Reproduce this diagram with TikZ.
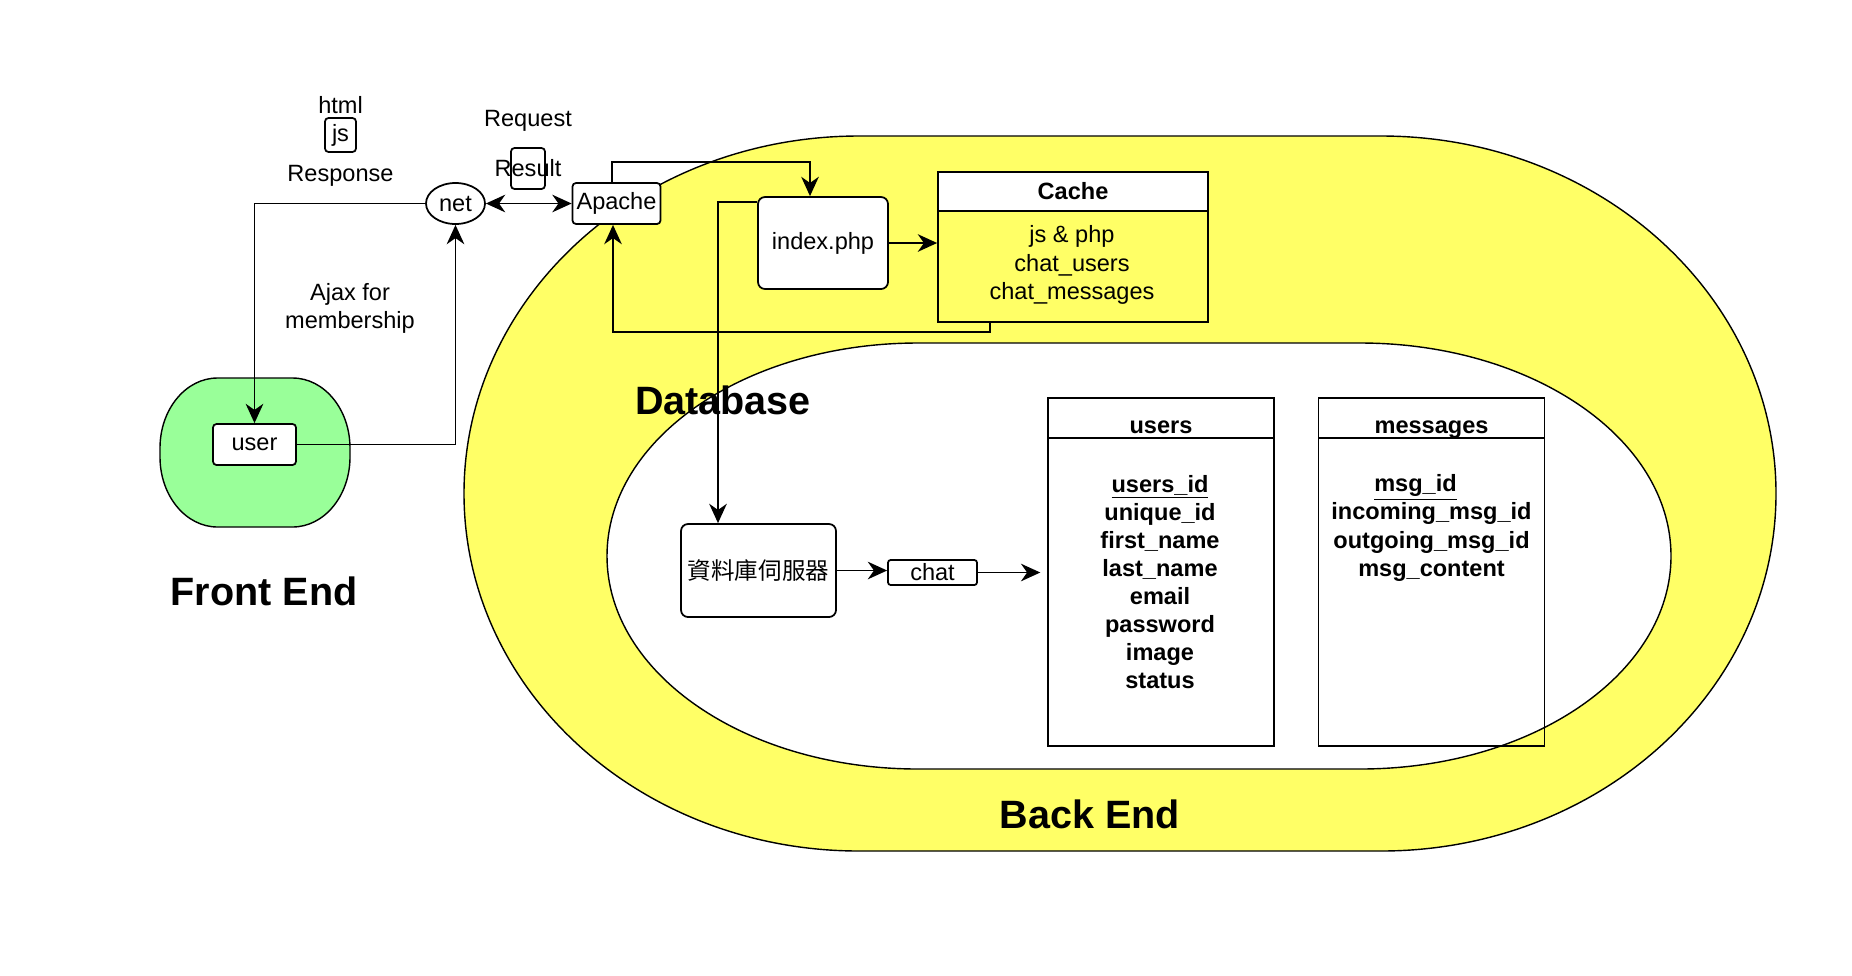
\documentclass[tikz,border=0pt]{standalone}
\usepackage{fontspec}
\setmainfont{Liberation Sans}
\newfontfamily\cjkfont{Noto Sans CJK TC}
\usepackage{tikz}
\usetikzlibrary{arrows.meta,positioning,calc,shapes.geometric}
\definecolor{beyellow}{HTML}{FFFF66}
\definecolor{fegreen}{HTML}{99FF99}
\newcommand{\lblfont}{\fontsize{13.4pt}{16pt}\selectfont}
\newcommand{\ttlfont}{\fontsize{22.5pt}{26pt}\selectfont\bfseries}

\begin{document}
\begin{tikzpicture}[
  box/.style={draw,fill=white,rounded corners=2pt,line width=1pt,inner sep=0pt,font=\lblfont},
  tbl/.style={draw,line width=0.8pt,minimum width=4.52cm,minimum height=6.96cm},
  tblhead/.style={draw,fill=white,line width=0.8pt,minimum width=4.52cm,minimum height=0.8cm,anchor=north,font=\lblfont\bfseries,text height=0.62cm,text depth=0pt,inner sep=0pt},
  field/.style={font=\lblfont\bfseries,align=center,inner sep=0pt},
  lbl/.style={font=\lblfont,inner sep=0pt},
  ttl/.style={font=\ttlfont},
  ring/.style={draw,line width=0.8pt},
  arr/.style={-{Stealth[length=11pt,width=10pt,inset=3.5pt]},line width=1.05pt},
  darr/.style={{Stealth[length=11pt,width=10pt,inset=3.5pt]}-{Stealth[length=11pt,width=10pt,inset=3.5pt]},line width=1.05pt}
]
\useasboundingbox (0,0) rectangle (37.04,-19.5);

% back end and database areas
\draw[ring,fill=beyellow] (17.18,-2.72) -- (27.62,-2.72)
  arc[start angle=90,end angle=-90,x radius=7.9,y radius=7.15] -- (17.18,-17.02)
  arc[start angle=270,end angle=90,x radius=7.9,y radius=7.15] -- cycle;
\draw[ring,fill=white] (18.36,-6.86) -- (27.20,-6.86)
  arc[start angle=90,end angle=-90,x radius=6.22,y radius=4.26] -- (18.36,-15.38)
  arc[start angle=270,end angle=90,x radius=6.22,y radius=4.26] -- cycle;
% front end area
\draw[ring,fill=fegreen] (4.35,-7.56) -- (5.85,-7.56)
  arc[start angle=90,end angle=0,x radius=1.15,y radius=1.4] -- (7.00,-9.14)
  arc[start angle=0,end angle=-90,x radius=1.15,y radius=1.4] -- (4.35,-10.54)
  arc[start angle=270,end angle=180,x radius=1.15,y radius=1.4] -- (3.20,-8.96)
  arc[start angle=180,end angle=90,x radius=1.15,y radius=1.4] -- cycle;

\node[ttl] (backend) at (21.80,-16.28) {Back End};
\node[ttl] (dbtitle) at (14.46,-8.00) {Database};
\node[ttl] (frontend) at (5.28,-11.82) {Front End};

\node[box,minimum width=1.66cm,minimum height=0.82cm] (user) at (5.09,-8.89) {user};
\node[box,ellipse,minimum width=1.18cm,minimum height=0.82cm] (net) at (9.11,-4.07) {net};
\node[box,minimum width=1.76cm,minimum height=0.82cm] (apache) at (12.33,-4.07) {Apache};
\node[box,rounded corners=4pt,minimum width=2.6cm,minimum height=1.84cm] (idx) at (16.46,-4.86) {index.php};
\node[box,rounded corners=4pt,minimum width=3.1cm,minimum height=1.86cm,font=\lblfont\cjkfont] (dbs) at (15.17,-11.41) {資料庫伺服器};
\node[box,rounded corners=1.5pt,minimum width=1.78cm,minimum height=0.5cm] (chat) at (18.65,-11.45) {chat};

\node[box,minimum width=0.62cm,minimum height=0.68cm] (js) at (6.81,-2.70) {js};
\node[lbl,above=0.06cm of js] (html) {html};
\node[lbl,below=0.24cm of js] (resp) {Response};
\node[box,minimum width=0.68cm,minimum height=0.82cm] (res) at (10.56,-3.37) {\makebox[0pt]{Result}};
\node[lbl,above=0.3cm of res] (req) {Request};
\node[lbl,align=center] (ajax) at (7.0,-6.16) {Ajax for\\membership};

% cache
\node[draw,fill=beyellow,line width=1pt,minimum width=5.4cm,minimum height=3cm] (cache) at (21.46,-4.94) {};
\node[draw,fill=white,line width=1pt,minimum width=5.4cm,minimum height=0.78cm,anchor=north,font=\lblfont\bfseries] (cacheh) at (cache.north) {Cache};
\node[lbl,align=center] (cachef) at (21.44,-5.30) {js \& php\\chat\_users\\chat\_messages};

% tables
\node[tbl] (users) at (23.22,-11.44) {};
\node[tblhead] (usersh) at (users.north) {users};
\node[field] (usersf) at (23.20,-11.64) {\underline{users\_id}\\unique\_id\\first\_name\\last\_name\\email\\password\\image\\status};
\node[tbl] (msgs) at (28.63,-11.44) {};
\node[tblhead] (msgsh) at (msgs.north) {messages};
\node[field] (msgsf) at (28.63,-10.56) {\underline{msg\_id}\hspace*{0.64cm}\\incoming\_msg\_id\\outgoing\_msg\_id\\msg\_content};

% connectors
\draw[darr] (net) -- (apache);
\draw[arr] (net.west) -| (user.north);
\draw[arr] (user.east) -| (net.south);
\draw[arr] ([xshift=-0.09cm]apache.north) -- ++(0,0.4) -| ([xshift=-0.26cm]idx.north);
\draw[arr] ([yshift=-0.12cm]idx.north west) -| ([xshift=-0.81cm]dbs.north);
\draw[arr] (idx.east) -- (idx.east -| cache.west);
\draw[arr] ([xshift=1.06cm]cache.south west) -- ++(0,-0.18) -| ([xshift=-0.07cm]apache.south);
\draw[arr] (dbs.east) -- (dbs.east -| chat.west);
\draw[arr,shorten >=0.14cm] (chat.east) -- (chat.east -| users.west);
\end{tikzpicture}
\end{document}
